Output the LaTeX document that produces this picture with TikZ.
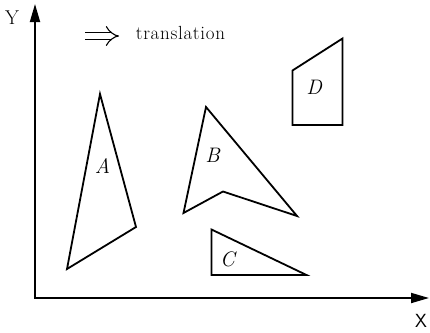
\documentclass[tikz,border=0pt]{standalone}
\usepackage{fontspec}
\usetikzlibrary{arrows.meta}

\begin{document}
\begin{tikzpicture}[x=1pt,y=-1pt,line width=1.8pt,line join=miter]
\useasboundingbox (0,0) rectangle (430,332);
% axes
\coordinate (o) at (35,298);
\coordinate (ytop) at (35,4);
\coordinate (xend) at (429,298);
\draw [{Triangle[length=18pt,width=10pt]}-{Triangle[length=18pt,width=10pt]}] (ytop) -- (o) -- (xend);
\node (ylab) at (12,18) {\fontsize{20}{22}\selectfont Y};
\node (xlab) at (421,321) {\fontsize{19}{21}\selectfont\sffamily X};
% legend
\coordinate (t1) at (85,36);
\coordinate (t2) at (119,36);
\draw [double, double distance=6pt, line width=1.1pt, -{Implies}] (t1) -- (t2);
\node [right,inner sep=0pt] (trans) at (135,33) {\fontsize{19}{21}\selectfont t\kern.7pt r\kern.7pt a\kern.7pt n\kern.7pt s\kern.7pt l\kern.7pt a\kern.7pt t\kern.7pt i\kern.7pt o\kern.7pt n};
% A
\draw (100,94) -- (136,227) -- (67,269) -- cycle;
\node (A) at (102.5,166) {\fontsize{21}{23}\selectfont\itshape A};
% B
\draw (206,107) -- (297,216) -- (223,191.5) -- (183.5,213) -- cycle;
\node (B) at (212.5,155.5) {\fontsize{21}{23}\selectfont\itshape B};
% C
\draw (211.5,229.5) -- (306.5,275) -- (211.5,275) -- cycle;
\node (C) at (227.5,259.5) {\fontsize{21}{23}\selectfont\itshape C};
% D
\draw (292.5,70.5) -- (342.5,38.5) -- (342.5,125) -- (292.5,125) -- cycle;
\node (D) at (314,87) {\fontsize{21}{23}\selectfont\itshape D};
\end{tikzpicture}
\end{document}
